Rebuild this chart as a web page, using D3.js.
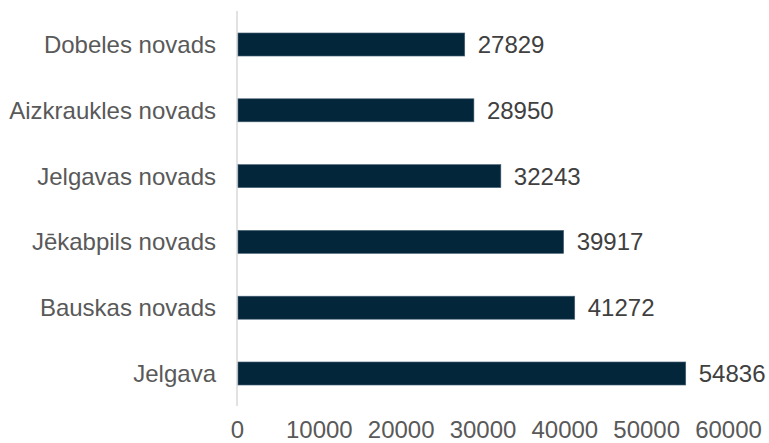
<!DOCTYPE html>
<html><head><meta charset="utf-8">
<script src="https://cdn.jsdelivr.net/npm/d3@7"></script>
<style>body{margin:0;background:#fff}svg{display:block}</style>
</head><body>
<script>
const categories = ["Dobeles novads","Aizkraukles novads","Jelgavas novads","Jēkabpils novads","Bauskas novads","Jelgava"];
const values = [27829, 28950, 32243, 39917, 41272, 54836];
const tickValues = [0, 10000, 20000, 30000, 40000, 50000, 60000];

const W = 769, H = 443;
const svg = d3.select("body").append("svg").attr("width", W).attr("height", H);
const font = "'Liberation Sans', Arial, sans-serif";
const x = d3.scaleLinear().domain([0, 60000]).range([237, 728]);
const y = d3.scaleBand().domain(categories).range([11.6, 406.4]).paddingInner(0.65).paddingOuter(0.325);

svg.append("line").attr("x1", 237).attr("x2", 237).attr("y1", 11).attr("y2", 406)
  .attr("stroke", "#d9d9d9").attr("stroke-width", 1.5);

svg.selectAll("rect.bar").data(categories).enter().append("rect")
  .attr("x", x(0) + 1).attr("y", d => y(d))
  .attr("width", (d, i) => x(values[i]) - x(0) - 1).attr("height", y.bandwidth())
  .attr("fill", "#03263a").attr("stroke", "#4a6477").attr("stroke-width", 0.6);

svg.selectAll("text.val").data(categories).enter().append("text")
  .attr("x", (d, i) => x(values[i]) + 13).attr("y", d => y(d) + y.bandwidth() / 2)
  .attr("dy", "0.35em").attr("font-family", font).attr("font-size", 24).attr("fill", "#404040")
  .text((d, i) => values[i]);

svg.selectAll("text.cat").data(categories).enter().append("text")
  .attr("x", 216).attr("y", d => y(d) + y.bandwidth() / 2)
  .attr("dy", "0.35em").attr("text-anchor", "end").attr("font-family", font).attr("font-size", 24).attr("fill", "#595959")
  .text(d => d);

const ax = svg.append("g").attr("transform", "translate(0,407)")
  .call(d3.axisBottom(x).tickValues(tickValues).tickSize(0).tickPadding(14).tickFormat(d3.format("d")));
ax.select(".domain").remove();
ax.selectAll("text").attr("font-family", font).attr("font-size", 24).attr("fill", "#595959");
</script>
</body></html>
